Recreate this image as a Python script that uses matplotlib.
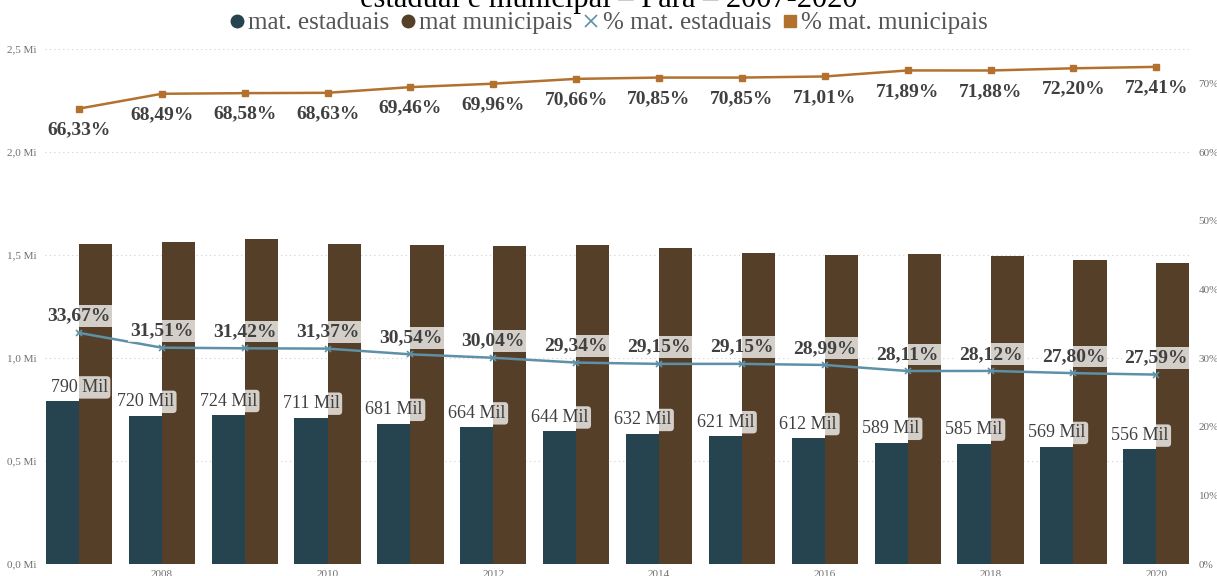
import numpy as np
import matplotlib.pyplot as plt
from matplotlib.lines import Line2D

plt.rcParams['font.family'] = ['Liberation Serif', 'DejaVu Serif']

# matrículas por rede (em milhares) e participação percentual
anos = np.arange(2007, 2021)
mat_estaduais = [790, 720, 724, 711, 681, 664, 644, 632, 621, 612, 589, 585, 569, 556]
mat_municipais = [1556, 1565, 1580, 1556, 1549, 1546, 1551, 1536, 1509, 1499, 1506, 1495, 1478, 1459]
pct_estaduais = [33.67, 31.51, 31.42, 31.37, 30.54, 30.04, 29.34, 29.15, 29.15, 28.99, 28.11, 28.12, 27.80, 27.59]
pct_municipais = [66.33, 68.49, 68.58, 68.63, 69.46, 69.96, 70.66, 70.85, 70.85, 71.01, 71.89, 71.88, 72.20, 72.41]

cor_est = '#25444f'
cor_mun = '#553f28'
cor_pct_est = '#5e91a7'
cor_pct_mun = '#b3712f'
cor_txt = '#404040'


def pct(v):
    return f"{v:.2f}".replace('.', ',') + '%'


fig = plt.figure(figsize=(12.17, 5.76), dpi=100)
ax = fig.add_axes([0.037, 0.0208, 0.941, 0.894])

ax.bar(anos - 0.2, mat_estaduais, 0.4, color=cor_est, zorder=2)
ax.bar(anos + 0.2, mat_municipais, 0.4, color=cor_mun, zorder=2)

ax.set_xlim(2007 - 0.41, 2020 + 0.41)
ax.set_ylim(0, 2500)
ax.set_yticks(np.arange(0, 2501, 500))
ax.set_yticklabels([f"{v / 1000:.1f}".replace('.', ',') + ' Mi' for v in range(0, 2501, 500)])
ax.set_xticks(range(2008, 2021, 2))
ax.yaxis.grid(True, ls=(0, (1, 3)), color='#d0d0d0', lw=0.8)
ax.set_axisbelow(True)
ax.tick_params(length=0, labelsize=8, colors='#707070')
ax.tick_params(axis='x', pad=4)
ax.tick_params(axis='y', pad=6)
for s in ax.spines.values():
    s.set_visible(False)

# rótulos das barras estaduais
for i, (a, v) in enumerate(zip(anos, mat_estaduais)):
    dx = 12 if i == 0 else 0
    ax.annotate(f"{v} Mil", (a - 0.2, v), xytext=(dx, 10), textcoords='offset points',
                ha='center', va='center', fontsize=13, color=cor_txt, zorder=5,
                bbox=dict(boxstyle='round,pad=0.15,rounding_size=0.2', fc='white', ec='none', alpha=0.75))

ax2 = ax.twinx()
ax2.set_ylim(0, 75)
ax2.set_yticks(range(0, 71, 10))
ax2.set_yticklabels([f"{v}%" for v in range(0, 71, 10)])
ax2.tick_params(length=0, labelsize=8, colors='#707070', pad=6)
for s in ax2.spines.values():
    s.set_visible(False)

ax2.plot(anos, pct_estaduais, color=cor_pct_est, lw=1.8, marker='x', ms=4, mew=1.2, zorder=3)
ax2.plot(anos, pct_municipais, color=cor_pct_mun, lw=1.8, marker='s', ms=4.5, zorder=3)

for a, v in zip(anos, pct_estaduais):
    ax2.annotate(pct(v), (a, v), xytext=(0, 12), textcoords='offset points',
                 ha='center', va='center', fontsize=14, fontweight='bold', color=cor_txt,
                 bbox=dict(boxstyle='square,pad=0.12', fc='white', ec='none', alpha=0.75))

for a, v in zip(anos, pct_municipais):
    ax2.annotate(pct(v), (a, v), xytext=(0, -15), textcoords='offset points',
                 ha='center', va='center', fontsize=14, fontweight='bold', color=cor_txt)

fig.text(0.5, 1 - 7 / 576, "estadual e municipal – Pará – 2007-2020",
         ha='center', va='baseline', fontsize=22, color='black')

handles = [
    Line2D([], [], ls='none', marker='o', ms=9, color=cor_est),
    Line2D([], [], ls='none', marker='o', ms=9, color=cor_mun),
    Line2D([], [], ls='none', marker='x', ms=9, mew=1.2, color=cor_pct_est),
    Line2D([], [], ls='none', marker='s', ms=8, color=cor_pct_mun),
]
labels = ['mat. estaduais', 'mat municipais', '% mat. estaduais', '% mat. municipais']
fig.legend(handles, labels, loc='center', bbox_to_anchor=(0.5, 1 - 23 / 576), ncol=4,
           frameon=False, fontsize=18, labelcolor='#555555', handlelength=0.6,
           handletextpad=0.15, columnspacing=0.45, borderaxespad=0)

fig.savefig('out.png', dpi=100)
